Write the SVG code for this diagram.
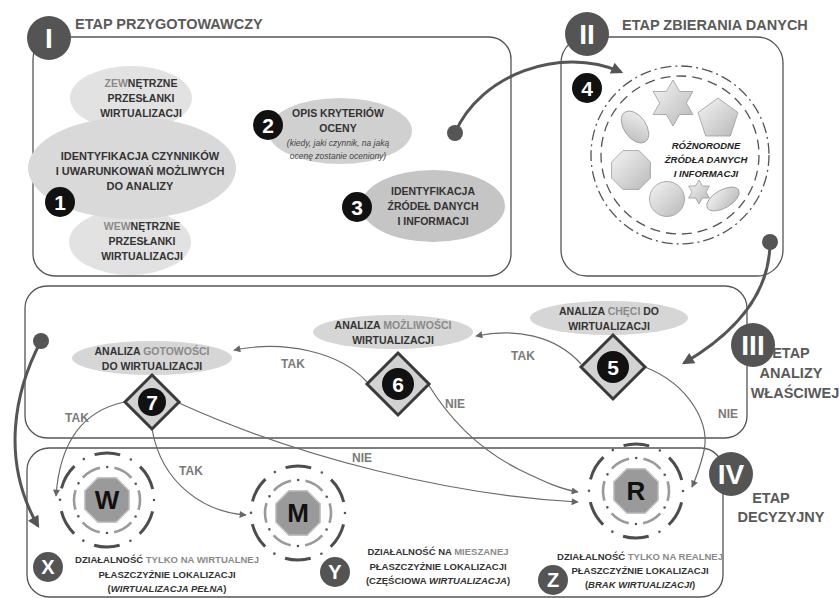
<svg xmlns="http://www.w3.org/2000/svg" width="839" height="598" viewBox="0 0 839 598">
  <defs>
    <style>
      .panel{fill:none;stroke:#555;stroke-width:1.3}
      .rom{fill:#545454}
      .romt{fill:#fff;font-family:"Liberation Sans",Arial,sans-serif;font-weight:bold;font-size:28px;text-anchor:middle}
      .ttl{fill:#5a5a5a;font-family:"Liberation Sans",Arial,sans-serif;font-weight:bold;font-size:14.5px}
      .ttlc{text-anchor:middle}
      .badge{fill:#111}
      .badget{fill:#fff;font-family:"Liberation Sans",Arial,sans-serif;font-weight:bold;font-size:21px;text-anchor:middle}
      .letter{fill:#fff;font-family:"Liberation Sans",Arial,sans-serif;font-weight:bold;font-size:20px;text-anchor:middle}
      .lbl{font-family:"Liberation Sans",Arial,sans-serif;font-weight:bold;text-anchor:middle;fill:#333}
      .f11{font-size:11px}
      .f105{font-size:10.5px}
      .f95{font-size:9.5px}
      .lt{fill:#8a8a8a}
      .it{font-style:italic}
      .note{font-family:"Liberation Sans",Arial,sans-serif;font-style:italic;font-size:8.5px;fill:#444;text-anchor:middle}
      .src{font-family:"Liberation Sans",Arial,sans-serif;font-weight:bold;font-style:italic;font-size:9.5px;fill:#222;text-anchor:middle}
      .yn{font-family:"Liberation Sans",Arial,sans-serif;font-weight:bold;font-size:12px;fill:#7a7a7a;text-anchor:middle}
      .ell1{fill:#e2e2e2}
      .ell1b{fill:#d9d9d9}
      .ell3{fill:#d6d6d6}
      .dia{fill:#d2d2d2;stroke:#3a3a3a;stroke-width:3}
      .big{fill:none;stroke:#555;stroke-width:3}
      .thin{fill:none;stroke:#6a6a6a;stroke-width:1.2}
      .dot{fill:#555}
      .shape{fill:url(#shade);stroke:#9a9a9a;stroke-width:0.8}
      .oct{fill:#9a9a9a;stroke:#c4c4c4;stroke-width:1.5}
      .octt{fill:#111;font-family:"Liberation Sans",Arial,sans-serif;font-weight:bold;font-size:26px;text-anchor:middle}
    </style>
    <marker id="ahBig" viewBox="0 0 10 10" refX="8" refY="5" markerWidth="15" markerHeight="12" markerUnits="userSpaceOnUse" orient="auto">
      <path d="M0,0 L10,5 L0,10 z" fill="#555"/>
    </marker>
    <marker id="ahSmall" viewBox="0 0 10 10" refX="9" refY="5" markerWidth="9" markerHeight="7" markerUnits="userSpaceOnUse" orient="auto">
      <path d="M0,0 L10,5 L0,10 z" fill="#666"/>
    </marker>
    <linearGradient id="shade" x1="0" y1="0" x2="1" y2="1">
      <stop offset="0" stop-color="#f4f4f4"/>
      <stop offset="1" stop-color="#b9b9b9"/>
    </linearGradient>
    <!-- dashed and dotted halo around an outcome octagon -->
    <g id="rings">
      <circle r="33" fill="none" stroke="#9a9a9a" stroke-width="2.6" stroke-dasharray="20 14.55" stroke-dashoffset="10"/>
      <circle r="33" fill="none" stroke="#555" stroke-width="2.6" stroke-linecap="round" stroke-dasharray="0 34.55" stroke-dashoffset="17.27"/>
      <circle r="47" fill="none" stroke="#4d4d4d" stroke-width="3" stroke-dasharray="26 23.22" stroke-dashoffset="37.6"/>
      <circle r="47" fill="none" stroke="#555" stroke-width="2.6" stroke-linecap="round" stroke-dasharray="0 49.22"/>
      <polygon class="oct" points="22.17,9.18 9.18,22.17 -9.18,22.17 -22.17,9.18 -22.17,-9.18 -9.18,-22.17 9.18,-22.17 22.17,-9.18"/>
    </g>
  </defs>

  <rect width="839" height="598" fill="#fff"/>

  <!-- stage frames -->
  <g id="frames">
    <rect class="panel" x="33" y="37" width="478" height="239" rx="22"/>
    <rect class="panel" x="561" y="37" width="222" height="239" rx="26"/>
    <rect class="panel" x="25" y="286" width="722" height="152" rx="22"/>
    <rect class="panel" x="27" y="448" width="696" height="149" rx="22"/>
  </g>

  <!-- stage headers -->
  <g id="stage-1">
    <circle class="rom" cx="49" cy="38" r="22"/>
    <text class="romt" x="49" y="48">I</text>
    <text class="ttl" x="75" y="29">ETAP PRZYGOTOWAWCZY</text>
  </g>
  <g id="stage-2">
    <circle class="rom" cx="587" cy="34" r="22"/>
    <text class="romt" x="587" y="44">II</text>
    <text class="ttl" x="622" y="30">ETAP ZBIERANIA DANYCH</text>
  </g>
  <g id="stage-3">
    <circle class="rom" cx="753" cy="345" r="22"/>
    <text class="romt" x="753" y="355">III</text>
    <text class="ttl ttlc" x="791" y="358">ETAP</text>
    <text class="ttl ttlc" x="791" y="378">ANALIZY</text>
    <text class="ttl ttlc" x="795" y="398">WŁAŚCIWEJ</text>
  </g>
  <g id="stage-4">
    <circle class="rom" cx="731" cy="474" r="22"/>
    <text class="romt" x="731" y="484">IV</text>
    <text class="ttl ttlc" x="771" y="503">ETAP</text>
    <text class="ttl ttlc" x="781" y="522">DECYZYJNY</text>
  </g>

  <!-- stage I contents -->
  <g id="node-1">
    <ellipse class="ell1" cx="131" cy="98" rx="61" ry="32"/>
    <ellipse class="ell1" cx="130" cy="242" rx="61" ry="33"/>
    <ellipse class="ell1b" cx="132" cy="168" rx="104" ry="51"/>
    <text class="lbl f105" x="141" y="87"><tspan class="lt">ZEW</tspan>NĘTRZNE</text>
    <text class="lbl f105" x="141" y="102">PRZESŁANKI</text>
    <text class="lbl f105" x="141" y="117">WIRTUALIZACJI</text>
    <text class="lbl f11" x="140" y="160">IDENTYFIKACJA CZYNNIKÓW</text>
    <text class="lbl f11" x="140" y="175">I UWARUNKOWAŃ MOŻLIWYCH</text>
    <text class="lbl f11" x="140" y="190">DO ANALIZY</text>
    <text class="lbl f105" x="142" y="230"><tspan class="lt">WEW</tspan>NĘTRZNE</text>
    <text class="lbl f105" x="142" y="245">PRZESŁANKI</text>
    <text class="lbl f105" x="142" y="260">WIRTUALIZACJI</text>
    <circle class="badge" cx="60" cy="202" r="15"/>
    <text class="badget" x="60" y="210">1</text>
  </g>
  <g id="node-2">
    <ellipse cx="340" cy="131" rx="72" ry="33" fill="#d0d0d0"/>
    <text class="lbl f105" x="338" y="117">OPIS KRYTERIÓW</text>
    <text class="lbl f105" x="338" y="132">OCENY</text>
    <text class="note" x="338" y="146">(kiedy, jaki czynnik, na jaką</text>
    <text class="note" x="338" y="159">ocenę zostanie oceniony)</text>
    <circle class="badge" cx="268" cy="125" r="15"/>
    <text class="badget" x="268" y="133">2</text>
  </g>
  <g id="node-3">
    <ellipse cx="433" cy="206" rx="72" ry="36" fill="#c5c5c5"/>
    <text class="lbl f105" x="433" y="195">IDENTYFIKACJA</text>
    <text class="lbl f105" x="433" y="210">ŹRÓDEŁ DANYCH</text>
    <text class="lbl f105" x="433" y="225">I INFORMACJI</text>
    <circle class="badge" cx="357" cy="207" r="15"/>
    <text class="badget" x="357" y="215">3</text>
  </g>

  <!-- stage II contents -->
  <g id="node-4">
    <circle cx="680" cy="155" r="89" fill="none" stroke="#555" stroke-width="1.3" stroke-dasharray="11 4 2 4"/>
    <circle cx="680" cy="155" r="79" fill="none" stroke="#555" stroke-width="1.3" stroke-dasharray="10 6"/>
    <polygon class="shape" points="673,80 679.65,91.48 692.92,91.5 686.3,103 692.92,114.5 679.65,114.52 673,126 666.35,114.52 653.08,114.5 659.7,103 653.08,91.5 666.35,91.48"/>
    <polygon class="shape" points="718,98 737.97,112.51 730.34,135.99 705.66,135.99 698.03,112.51"/>
    <ellipse class="shape" cx="0" cy="0" rx="18" ry="11" transform="translate(635 127) rotate(55)"/>
    <polygon class="shape" points="650.4,178.04 639.04,189.4 622.96,189.4 611.6,178.04 611.6,161.96 622.96,150.6 639.04,150.6 650.4,161.96"/>
    <circle class="shape" cx="667" cy="199" r="17.5"/>
    <polygon class="shape" points="699,180 702.47,185.99 709.39,186 705.94,192 709.39,198 702.47,198.01 699,204 695.53,198.01 688.61,198 692.06,192 688.61,186 695.53,185.99"/>
    <ellipse class="shape" cx="0" cy="0" rx="18" ry="9" transform="translate(723 199) rotate(-30)"/>
    <text class="src" x="706" y="149">RÓŻNORODNE</text>
    <text class="src" x="706" y="163">ŹRÓDŁA DANYCH</text>
    <text class="src" x="706" y="177">I INFORMACJI</text>
    <circle class="badge" cx="587" cy="88" r="15"/>
    <text class="badget" x="587" y="96">4</text>
  </g>

  <!-- connectors -->
  <g id="connectors">
    <path class="big" d="M455 133 C480 75 560 45 621 72" marker-end="url(#ahBig)"/>
    <circle class="dot" cx="455" cy="133" r="8"/>
    <path class="big" d="M770 242 C770 290 740 330 684 363" marker-end="url(#ahBig)"/>
    <circle class="dot" cx="770" cy="242" r="8"/>
    <path class="big" d="M41 341 C15 390 0 460 38 526" marker-end="url(#ahBig)"/>
    <circle class="dot" cx="41" cy="341" r="8"/>

    <path class="thin" d="M581 364 C555 335 515 328 476 336" marker-end="url(#ahSmall)"/>
    <path class="thin" d="M367 382 C340 352 285 340 234 350" marker-end="url(#ahSmall)"/>
    <path class="thin" d="M645 367 C690 385 712 425 703 455 C699 470 696 478 692 487" marker-end="url(#ahSmall)"/>
    <path class="thin" d="M428 384 C450 420 480 450 520 470 C545 482 560 489 578 492" marker-end="url(#ahSmall)"/>
    <path class="thin" d="M179 403 C300 458 450 495 578 502" marker-end="url(#ahSmall)"/>
    <path class="thin" d="M125 402 C85 410 60 440 56 496" marker-end="url(#ahSmall)"/>
    <path class="thin" d="M152 429 C162 485 205 512 246 515" marker-end="url(#ahSmall)"/>

    <text class="yn" x="523" y="360">TAK</text>
    <text class="yn" x="293" y="368">TAK</text>
    <text class="yn" x="455" y="408">NIE</text>
    <text class="yn" x="728" y="418">NIE</text>
    <text class="yn" x="77" y="422">TAK</text>
    <text class="yn" x="191" y="475">TAK</text>
    <text class="yn" x="362" y="462">NIE</text>
  </g>

  <!-- stage III decisions -->
  <g id="node-5">
    <ellipse class="ell3" cx="609" cy="318" rx="79" ry="17"/>
    <text class="lbl f105" x="609" y="315">ANALIZA <tspan class="lt">CHĘCI</tspan> DO</text>
    <text class="lbl f105" x="609" y="330">WIRTUALIZACJI</text>
    <polygon class="dia" points="613,335 645,367 613,399 581,367"/>
    <circle class="badge" cx="613" cy="367" r="16"/>
    <text class="badget" x="613" y="375">5</text>
  </g>
  <g id="node-6">
    <ellipse class="ell3" cx="393" cy="332" rx="80" ry="17"/>
    <text class="lbl f105" x="393" y="329">ANALIZA <tspan class="lt">MOŻLIWOŚCI</tspan></text>
    <text class="lbl f105" x="393" y="344">WIRTUALIZACJI</text>
    <polygon class="dia" points="398,353 429,384 398,415 367,384"/>
    <circle class="badge" cx="398" cy="384" r="16"/>
    <text class="badget" x="398" y="392">6</text>
  </g>
  <g id="node-7">
    <ellipse class="ell3" cx="152" cy="358" rx="80" ry="17"/>
    <text class="lbl f105" x="152" y="355">ANALIZA <tspan class="lt">GOTOWOŚCI</tspan></text>
    <text class="lbl f105" x="152" y="370">DO WIRTUALIZACJI</text>
    <polygon class="dia" points="152,375 179,402 152,429 125,402"/>
    <circle class="badge" cx="152" cy="402" r="14"/>
    <text class="badget" x="152" y="410">7</text>
  </g>

  <!-- stage IV outcomes -->
  <g id="outcome-w">
    <use href="#rings" x="107" y="500"/>
    <text class="octt" x="107" y="509">W</text>
    <circle class="rom" cx="48" cy="567" r="15"/>
    <text class="letter" x="48" y="574">X</text>
    <text class="lbl f95" x="167" y="563">DZIAŁALNOŚĆ <tspan class="lt">TYLKO NA WIRTUALNEJ</tspan></text>
    <text class="lbl f95" x="167" y="578">PŁASZCZYŹNIE LOKALIZACJI</text>
    <text class="lbl f95" x="167" y="592">(<tspan class="it">WIRTUALIZACJA PEŁNA</tspan>)</text>
  </g>
  <g id="outcome-m">
    <use href="#rings" x="298" y="513"/>
    <text class="octt" x="298" y="522">M</text>
    <circle class="rom" cx="335" cy="572" r="15"/>
    <text class="letter" x="335" y="579">Y</text>
    <text class="lbl f95" x="438" y="555">DZIAŁALNOŚĆ NA <tspan class="lt">MIESZANEJ</tspan></text>
    <text class="lbl f95" x="438" y="570">PŁASZCZYŹNIE LOKALIZACJI</text>
    <text class="lbl f95" x="438" y="584">(CZĘŚCIOWA <tspan class="it">WIRTUALIZACJA</tspan>)</text>
  </g>
  <g id="outcome-r">
    <use href="#rings" x="636" y="491"/>
    <text class="octt" x="636" y="500">R</text>
    <circle class="rom" cx="553" cy="580" r="15"/>
    <text class="letter" x="553" y="587">Z</text>
    <text class="lbl f95" x="640" y="560">DZIAŁALNOŚĆ <tspan class="lt">TYLKO NA REALNEJ</tspan></text>
    <text class="lbl f95" x="640" y="574">PŁASZCZYŹNIE LOKALIZACJI</text>
    <text class="lbl f95" x="640" y="588">(<tspan class="it">BRAK WIRTUALIZACJI</tspan>)</text>
  </g>
</svg>
